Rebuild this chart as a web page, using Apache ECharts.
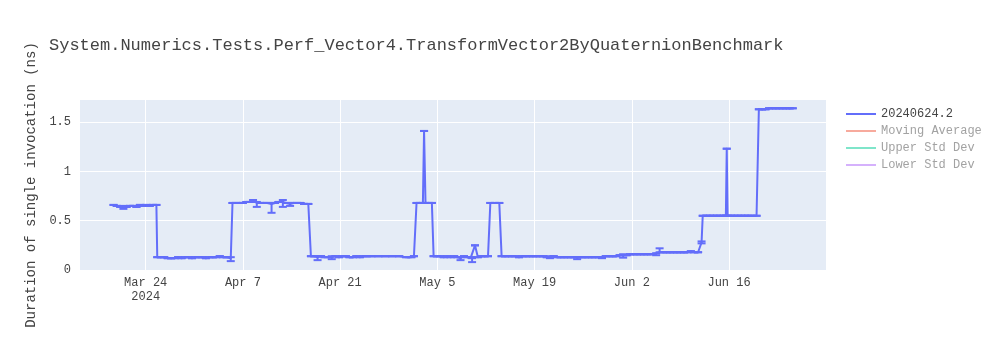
<!DOCTYPE html>
<html><head><meta charset="utf-8">
<script src="https://cdn.jsdelivr.net/npm/echarts@6/dist/echarts.min.js"></script>
<style>html,body{margin:0;padding:0;background:#fff}#c{width:1000px;height:350px}</style>
</head><body><div id="c"></div>
<script>
const chartTitle = 'System.Numerics.Tests.Perf_Vector4.TransformVector2ByQuaternionBenchmark';
const yAxisTitle = 'Duration of single invocation (ns)';
const seriesNames = ['20240624.2', 'Moving Average', 'Upper Std Dev', 'Lower Std Dev'];
const seriesColors = ['#636efa', 'rgba(239,85,59,0.5)', 'rgba(0,204,150,0.5)', 'rgba(171,99,250,0.5)'];

const dates = [
  '2024-03-19T09:00','2024-03-19T20:00','2024-03-20T08:00','2024-03-20T19:00','2024-03-21T06:00','2024-03-21T18:00',
  '2024-03-22T05:00','2024-03-22T16:00','2024-03-23T04:00','2024-03-23T15:00','2024-03-24T03:00','2024-03-24T14:00',
  '2024-03-25T02:00','2024-03-25T13:00',
  '2024-03-25T16:00','2024-03-26T04:00','2024-03-26T16:00','2024-03-27T04:00','2024-03-27T16:00','2024-03-28T04:00',
  '2024-03-28T16:00','2024-03-29T04:00','2024-03-29T16:00','2024-03-30T04:00','2024-03-30T16:00','2024-03-31T04:00',
  '2024-03-31T16:00','2024-04-01T04:00','2024-04-01T16:00','2024-04-02T04:00','2024-04-02T16:00','2024-04-03T04:00',
  '2024-04-03T16:00','2024-04-04T04:00','2024-04-04T16:00','2024-04-05T06:00',
  '2024-04-05T12:00','2024-04-06T00:00','2024-04-06T12:00','2024-04-07T00:00','2024-04-07T12:00','2024-04-08T00:00',
  '2024-04-08T11:00','2024-04-09T00:00','2024-04-09T12:00','2024-04-10T00:00','2024-04-10T12:00','2024-04-11T03:00',
  '2024-04-11T15:00','2024-04-12T03:00','2024-04-12T18:00','2024-04-13T06:00','2024-04-13T19:00','2024-04-14T07:00',
  '2024-04-14T19:00','2024-04-15T07:00','2024-04-15T19:00','2024-04-16T10:00',
  '2024-04-16T19:00','2024-04-17T06:00','2024-04-17T18:00','2024-04-18T06:00','2024-04-18T18:00','2024-04-19T19:00',
  '2024-04-20T08:00','2024-04-20T20:00','2024-04-21T08:00','2024-04-21T20:00','2024-04-22T08:00','2024-04-22T20:00',
  '2024-04-23T08:00','2024-04-23T20:00','2024-04-24T08:00','2024-04-24T20:00','2024-04-25T12:00','2024-04-26T12:00',
  '2024-04-27T12:00','2024-04-28T12:00','2024-04-29T12:00','2024-04-30T12:00','2024-05-01T06:00','2024-05-01T15:00',
  '2024-05-02T00:00','2024-05-02T12:00','2024-05-02T22:00','2024-05-03T02:00','2024-05-03T07:00','2024-05-03T18:00',
  '2024-05-04T05:00',
  '2024-05-04T11:00','2024-05-04T22:00','2024-05-05T10:00','2024-05-05T22:00','2024-05-06T10:00','2024-05-06T22:00',
  '2024-05-07T10:00','2024-05-07T22:00','2024-05-08T08:00','2024-05-08T20:00','2024-05-09T08:00','2024-05-09T20:00',
  '2024-05-10T00:00','2024-05-10T10:00','2024-05-10T20:00','2024-05-11T08:00','2024-05-11T20:00','2024-05-12T07:00',
  '2024-05-12T15:00','2024-05-13T06:00','2024-05-13T22:00',
  '2024-05-14T06:00','2024-05-14T18:00','2024-05-15T06:00','2024-05-15T18:00','2024-05-16T06:00','2024-05-16T18:00',
  '2024-05-17T06:00','2024-05-17T18:00','2024-05-18T06:00','2024-05-18T18:00','2024-05-19T06:00','2024-05-19T18:00',
  '2024-05-20T06:00','2024-05-20T18:00','2024-05-21T05:00','2024-05-21T18:00','2024-05-22T06:00','2024-05-22T18:00',
  '2024-05-23T06:00','2024-05-23T18:00','2024-05-24T06:00','2024-05-24T18:00','2024-05-25T03:00','2024-05-25T18:00',
  '2024-05-26T06:00','2024-05-26T18:00','2024-05-27T06:00','2024-05-27T18:00','2024-05-28T06:00','2024-05-28T17:00',
  '2024-05-29T06:00','2024-05-29T18:00','2024-05-30T06:00','2024-05-30T18:00','2024-05-31T06:00','2024-05-31T18:00',
  '2024-06-01T06:00','2024-06-01T18:00','2024-06-02T06:00','2024-06-02T18:00','2024-06-03T06:00','2024-06-03T18:00',
  '2024-06-04T06:00','2024-06-04T18:00','2024-06-05T12:00','2024-06-06T00:00','2024-06-06T12:00','2024-06-07T00:00',
  '2024-06-07T12:00','2024-06-08T00:00','2024-06-08T12:00','2024-06-09T00:00','2024-06-09T12:00','2024-06-10T00:00',
  '2024-06-10T12:00','2024-06-11T00:00','2024-06-11T13:00','2024-06-12T01:00',
  '2024-06-12T05:00','2024-06-12T18:00','2024-06-13T06:00','2024-06-13T18:00','2024-06-14T06:00','2024-06-14T18:00',
  '2024-06-15T06:00','2024-06-15T13:00','2024-06-15T16:00','2024-06-15T19:00','2024-06-16T06:00','2024-06-16T18:00',
  '2024-06-17T06:00','2024-06-17T18:00','2024-06-18T06:00','2024-06-18T18:00','2024-06-19T06:00','2024-06-19T23:00',
  '2024-06-20T07:00','2024-06-20T18:00','2024-06-21T06:00','2024-06-21T18:00','2024-06-22T06:00','2024-06-22T18:00',
  '2024-06-23T06:00','2024-06-23T18:00','2024-06-24T06:00','2024-06-24T18:00','2024-06-25T04:00'
];
const values = [
  0.66,0.65,0.64,0.63,0.64,0.65,
  0.65,0.64,0.66,0.65,0.66,0.65,
  0.66,0.66,
  0.13,0.13,0.13,0.12,0.12,0.12,
  0.13,0.12,0.13,0.13,0.12,0.13,
  0.13,0.13,0.12,0.13,0.13,0.13,
  0.14,0.13,0.13,0.12,
  0.68,0.68,0.68,0.68,0.69,0.69,
  0.70,0.68,0.68,0.68,0.68,0.67,
  0.68,0.69,0.69,0.68,0.67,0.68,
  0.68,0.68,0.67,0.67,
  0.14,0.14,0.13,0.14,0.13,0.13,
  0.14,0.13,0.14,0.14,0.13,0.13,
  0.14,0.13,0.14,0.14,0.14,0.14,
  0.14,0.14,0.14,0.13,0.13,0.14,
  0.68,0.68,0.68,1.41,0.68,0.68,
  0.68,
  0.14,0.14,0.14,0.13,0.14,0.13,
  0.14,0.13,0.12,0.14,0.13,0.13,
  0.11,0.25,0.13,0.14,0.14,0.14,
  0.68,0.68,0.68,
  0.14,0.14,0.14,0.14,0.14,0.13,
  0.14,0.14,0.14,0.14,0.14,0.14,
  0.14,0.13,0.13,0.14,0.13,0.13,
  0.13,0.13,0.13,0.13,0.13,0.13,
  0.13,0.13,0.13,0.13,0.13,0.13,
  0.14,0.14,0.14,0.14,0.15,0.15,
  0.15,0.16,0.16,0.16,0.16,0.16,
  0.16,0.16,0.17,0.18,0.18,0.18,
  0.18,0.18,0.18,0.18,0.18,0.18,
  0.19,0.18,0.18,0.28,
  0.55,0.55,0.55,0.55,0.55,0.55,
  0.55,0.55,1.23,0.55,0.55,0.55,
  0.55,0.55,0.55,0.55,0.55,0.55,
  1.63,1.63,1.63,1.64,1.64,1.64,
  1.64,1.64,1.64,1.64,1.64
];
// [date, lower end, upper end] of the visible error bars
const errorBars = [
  ['2024-03-20T19:00', 0.62, 0.65],
  ['2024-04-05T06:00', 0.09, 0.13],
  ['2024-04-08T11:00', 0.69, 0.71],
  ['2024-04-09T00:00', 0.64, 0.69],
  ['2024-04-11T03:00', 0.58, 0.68],
  ['2024-04-12T18:00', 0.64, 0.71],
  ['2024-04-13T19:00', 0.65, 0.68],
  ['2024-04-17T18:00', 0.10, 0.14],
  ['2024-04-19T19:00', 0.11, 0.14],
  ['2024-05-08T08:00', 0.10, 0.13],
  ['2024-05-10T00:00', 0.08, 0.12],
  ['2024-05-21T05:00', 0.12, 0.14],
  ['2024-05-25T03:00', 0.11, 0.13],
  ['2024-05-28T17:00', 0.12, 0.13],
  ['2024-05-31T18:00', 0.125, 0.16],
  ['2024-06-05T12:00', 0.15, 0.17],
  ['2024-06-06T00:00', 0.18, 0.22],
  ['2024-06-12T01:00', 0.27, 0.29]
];
const xTickDates = ['2024-03-24','2024-04-07','2024-04-21','2024-05-05','2024-05-19','2024-06-02','2024-06-16'];
const xTickYear = '2024';
const yTicks = [0, 0.5, 1, 1.5];
const xRange = ['2024-03-14T13:00', '2024-06-29T23:00'];
const yRange = [0, 1.724];

function toMs(s) {
  if (s.length === 10) s += 'T00:00';
  return Date.parse(s + ':00Z');
}
const MONTHS = ['Jan','Feb','Mar','Apr','May','Jun','Jul','Aug','Sep','Oct','Nov','Dec'];
const FONT = '"Liberation Mono", "DejaVu Sans Mono", monospace';
const lineData = dates.map((d, i) => [toMs(d), values[i]]);
const errMap = {};
errorBars.forEach(e => { errMap[e[0]] = [e[1], e[2]]; });
const errData = dates.map((d, i) => {
  const e = errMap[d];
  return e ? [toMs(d), e[0], e[1]] : [toMs(d), values[i], values[i]];
});
const xTicks = xTickDates.map(toMs);

const chart = echarts.init(document.getElementById('c'), null, {renderer: 'canvas'});
const mainColor = seriesColors[0];
chart.setOption({
  animation: false,
  backgroundColor: '#fff',
  textStyle: {fontFamily: FONT},
  title: {
    text: chartTitle, left: 49, top: 37, padding: 0,
    textStyle: {fontFamily: FONT, fontSize: 17, fontWeight: 'normal', color: '#444'}
  },
  legend: {
    orient: 'vertical', left: 846, top: 108, itemWidth: 30, itemHeight: 14, itemGap: 5,
    padding: 0, icon: 'path://M0,0H30V2H0Z',
    textStyle: {fontFamily: FONT, fontSize: 12, color: '#444'},
    data: seriesNames.map((n, i) => ({name: n, textStyle: {color: i === 0 ? '#444' : '#a2a2a2'}}))
  },
  grid: {left: 80, right: 174, top: 100, bottom: 80, show: true, backgroundColor: '#e5ecf6', borderWidth: 0},
  xAxis: {
    type: 'value', min: toMs(xRange[0]), max: toMs(xRange[1]),
    axisLine: {show: false}, axisTick: {show: false, customValues: xTicks},
    splitLine: {show: true, lineStyle: {color: '#fff', width: 1}},
    axisLabel: {
      customValues: xTicks, margin: 6, fontFamily: FONT, fontSize: 12, color: '#444', lineHeight: 14,
      formatter: v => {
        const d = new Date(v);
        let s = MONTHS[d.getUTCMonth()] + ' ' + d.getUTCDate();
        if (v === xTicks[0]) s += '\n' + xTickYear;
        return s;
      }
    }
  },
  yAxis: {
    type: 'value', min: yRange[0], max: yRange[1],
    name: yAxisTitle, nameLocation: 'middle', nameGap: 39, nameRotate: 90,
    nameTextStyle: {fontFamily: FONT, fontSize: 14, color: '#444'},
    axisLine: {show: false}, axisTick: {show: false, customValues: yTicks},
    splitLine: {show: true, lineStyle: {color: '#fff', width: 1}},
    axisLabel: {customValues: yTicks, margin: 9, fontFamily: FONT, fontSize: 12, color: '#444',
      formatter: v => String(v)}
  },
  series: [
    {
      name: seriesNames[0], type: 'line', data: lineData, symbol: 'none', color: mainColor,
      lineStyle: {color: mainColor, width: 2, join: 'round'}, z: 3
    },
    {
      id: 'err', type: 'custom', data: errData, z: 4, clip: true,
      renderItem: (params, api) => {
        const x = api.value(0), lo = api.value(1), hi = api.value(2);
        const a = api.coord([x, lo]), b = api.coord([x, hi]);
        const w = 4;
        const st = {stroke: mainColor, lineWidth: 2};
        return {type: 'group', children: [
          {type: 'line', shape: {x1: a[0], y1: a[1], x2: b[0], y2: b[1]}, style: st},
          {type: 'line', shape: {x1: a[0] - w, y1: a[1], x2: a[0] + w, y2: a[1]}, style: st},
          {type: 'line', shape: {x1: b[0] - w, y1: b[1], x2: b[0] + w, y2: b[1]}, style: st}
        ]};
      }
    },
    {name: seriesNames[1], type: 'line', data: [], symbol: 'none', color: seriesColors[1], lineStyle: {color: seriesColors[1], width: 2}},
    {name: seriesNames[2], type: 'line', data: [], symbol: 'none', color: seriesColors[2], lineStyle: {color: seriesColors[2], width: 2}},
    {name: seriesNames[3], type: 'line', data: [], symbol: 'none', color: seriesColors[3], lineStyle: {color: seriesColors[3], width: 2}}
  ]
});
</script></body></html>
